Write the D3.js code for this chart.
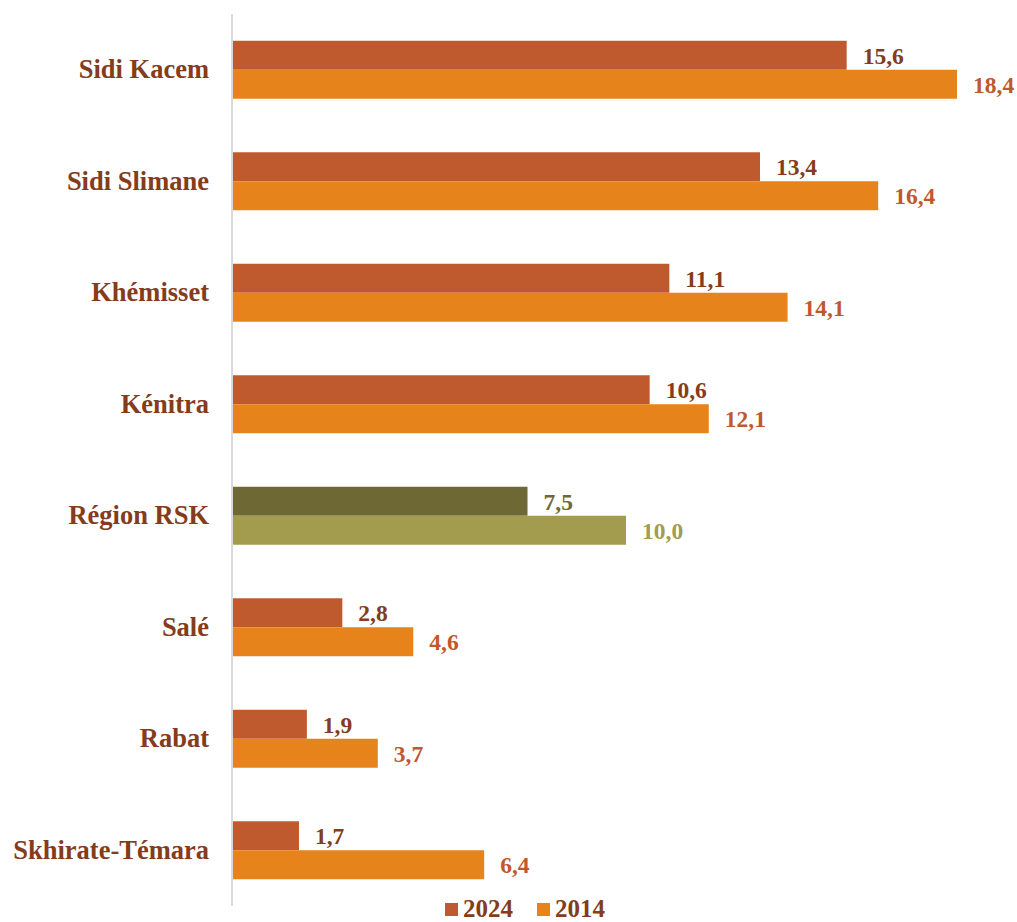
<!DOCTYPE html>
<html><head><meta charset="utf-8">
<script src="https://cdn.jsdelivr.net/npm/d3@7"></script>
<style>body{margin:0;background:#fff}</style>
</head><body>
<svg id="c" width="1017" height="922"></svg>
<script>
const categories = ["Sidi Kacem","Sidi Slimane","Khémisset","Kénitra","Région RSK","Salé","Rabat","Skhirate-Témara"];
const values2024 = [15.6,13.4,11.1,10.6,7.5,2.8,1.9,1.7];
const values2014 = [18.4,16.4,14.1,12.1,10.0,4.6,3.7,6.4];
const seriesNames = ["2024","2014"];

const svg = d3.select("#c");
const x0 = 232, yTop = 14, yBot = 906;
const x = d3.scaleLinear().domain([0,18.4]).range([x0, 957]);
const y = d3.scaleBand().domain(categories).range([yTop,yBot]).paddingInner(0.48).paddingOuter(0.24);
const sub = d3.scaleBand().domain(seriesNames).range([0,y.bandwidth()]);

const colors = {"2024":"#BE5A2E","2014":"#E6831A"};
const regColors = {"2024":"#6E6835","2014":"#A39B4E"};
const labColors = {"2024":"#843C1C","2014":"#C0582E"};
const font = "'Liberation Serif','Times New Roman',serif";
const textBrown = "#843C1C";

const data = [];
categories.forEach((c,i)=>{
  data.push({c, s:"2024", v:values2024[i]});
  data.push({c, s:"2014", v:values2014[i]});
});
const isReg = c => c==="Région RSK";

svg.selectAll("rect.bar").data(data).join("rect")
  .attr("class","bar")
  .attr("x", x(0))
  .attr("y", d=>y(d.c)+sub(d.s))
  .attr("width", d=>x(d.v)-x(0))
  .attr("height", sub.bandwidth())
  .attr("fill", d=> isReg(d.c)? regColors[d.s] : colors[d.s]);

svg.selectAll("text.val").data(data).join("text")
  .attr("class","val")
  .attr("x", d=>x(d.v)+16)
  .attr("y", d=>y(d.c)+sub(d.s)+sub.bandwidth()/2+3)
  .attr("dominant-baseline","middle")
  .attr("font-family", font).attr("font-weight","bold").attr("font-size",23.5)
  .attr("fill", d=> isReg(d.c)? regColors[d.s] : labColors[d.s])
  .text(d=>d.v.toFixed(1).replace(".",","));

// axis line
svg.append("line").attr("x1",x0).attr("x2",x0).attr("y1",yTop).attr("y2",yBot)
  .attr("stroke","#d9d9d9").attr("stroke-width",2);

// category labels
const yAxis = d3.axisLeft(y).tickSize(0).tickPadding(23);
const ga = svg.append("g").attr("transform",`translate(${x0},0)`).call(yAxis);
ga.select(".domain").remove();
ga.selectAll("text").attr("font-family",font).attr("font-weight","bold")
  .attr("font-size",26.5).attr("fill",textBrown);

// legend
const leg = svg.append("g");
const legItems = [{s:"2024", x:445},{s:"2014", x:537}];
legItems.forEach(l=>{
  leg.append("rect").attr("x",l.x).attr("y",903).attr("width",13).attr("height",13).attr("fill",colors[l.s]);
  leg.append("text").attr("x",l.x+18).attr("y",917)
    .attr("font-family",font).attr("font-weight","bold").attr("font-size",25).attr("fill",textBrown).text(l.s);
});
</script>
</body></html>
